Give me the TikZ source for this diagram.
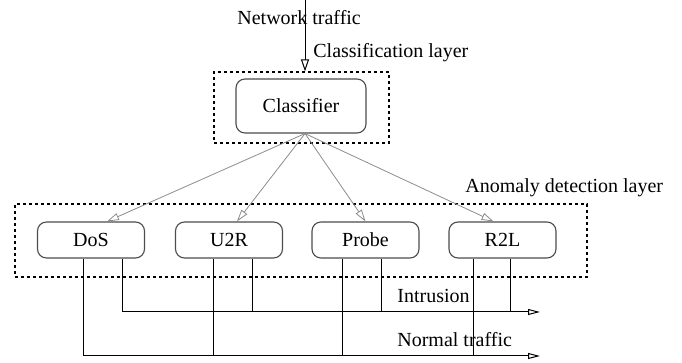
\documentclass[tikz,border=0pt]{standalone}
\usepackage{fontspec}
\setmainfont{Liberation Serif}
\usetikzlibrary{arrows.meta}
\begin{document}
\begin{tikzpicture}[x=0.5pt,y=-0.5pt,
  font=\fontsize{10pt}{12pt}\selectfont,
  lbl/.style={inner sep=0pt,anchor=west},
  frame/.style={draw,line width=0.6pt,dash pattern=on 1.5pt off 1.5pt,inner sep=0pt},
  box/.style={draw=black!70,line width=0.55pt,rounded corners=4.5pt,minimum width=53.5pt,minimum height=18pt,inner sep=0pt},
  garrow/.style={draw=black!45,line width=0.4pt,-{Triangle[open,length=6pt,width=3.6pt]}},
  bus/.style={draw=black,line width=0.5pt},
  busarrow/.style={bus,-{Triangle[open,length=6pt,width=3pt]}}]
\useasboundingbox (0,0) rectangle (682,363);
% frames
\node[frame,minimum width=87.5pt,minimum height=35.5pt] (clayer) at (301.5,107.5) {};
\node[frame,minimum width=286pt,minimum height=36.5pt] (alayer) at (301,240.5) {};
% labels
\node[lbl] (nt) at (237,18) {Network traffic};
\node[lbl] (cl) at (313,53) {Classification layer};
\node[lbl] (al) at (465,188) {Anomaly detection layer};
\node[lbl] (it) at (397,296) {Intrusion};
\node[lbl] (nl) at (397,340) {Normal traffic};
% nodes
\node[box,minimum width=65pt,minimum height=27pt] (cls) at (301,106) {Classifier};
\node[box] (dos) at (91,240) {DoS};
\node[box] (u2r) at (229,240) {U2R};
\node[box] (probe) at (365.5,240) {Probe};
\node[box] (r2l) at (502.5,240) {R2L};
% input
\coordinate (src) at (305,0);
\draw[line width=0.5pt,-{Triangle[open,length=6pt,width=4pt]}] (src) -- (clayer.north -| src);
% classifier arrows
\draw[garrow] ([xshift=2pt]cls.south) -- ([xshift=8pt]dos.north);
\draw[garrow] ([xshift=2pt]cls.south) -- ([xshift=4pt]u2r.north);
\draw[garrow] ([xshift=2pt]cls.south) -- (probe.north);
\draw[garrow] ([xshift=2pt]cls.south) -- ([xshift=-4.5pt]r2l.north);
% buses
\coordinate (intr) at (540,312);
\coordinate (norm) at (540,356);
\draw[busarrow] ([xshift=-4pt]dos.south) |- (norm);
\draw[busarrow] ([xshift=15.5pt]dos.south) |- (intr);
\draw[bus] ([xshift=-8pt]u2r.south) -- ([xshift=-8pt]u2r.south |- norm);
\draw[bus] ([xshift=11.5pt]u2r.south) -- ([xshift=11.5pt]u2r.south |- intr);
\draw[bus] ([xshift=-11.75pt]probe.south) -- ([xshift=-11.75pt]probe.south |- norm);
\draw[bus] ([xshift=7.75pt]probe.south) -- ([xshift=7.75pt]probe.south |- intr);
\draw[bus] ([xshift=-14.75pt]r2l.south) -- ([xshift=-14.75pt]r2l.south |- norm);
\draw[bus] ([xshift=3.75pt]r2l.south) -- ([xshift=3.75pt]r2l.south |- intr);
\end{tikzpicture}
\end{document}
